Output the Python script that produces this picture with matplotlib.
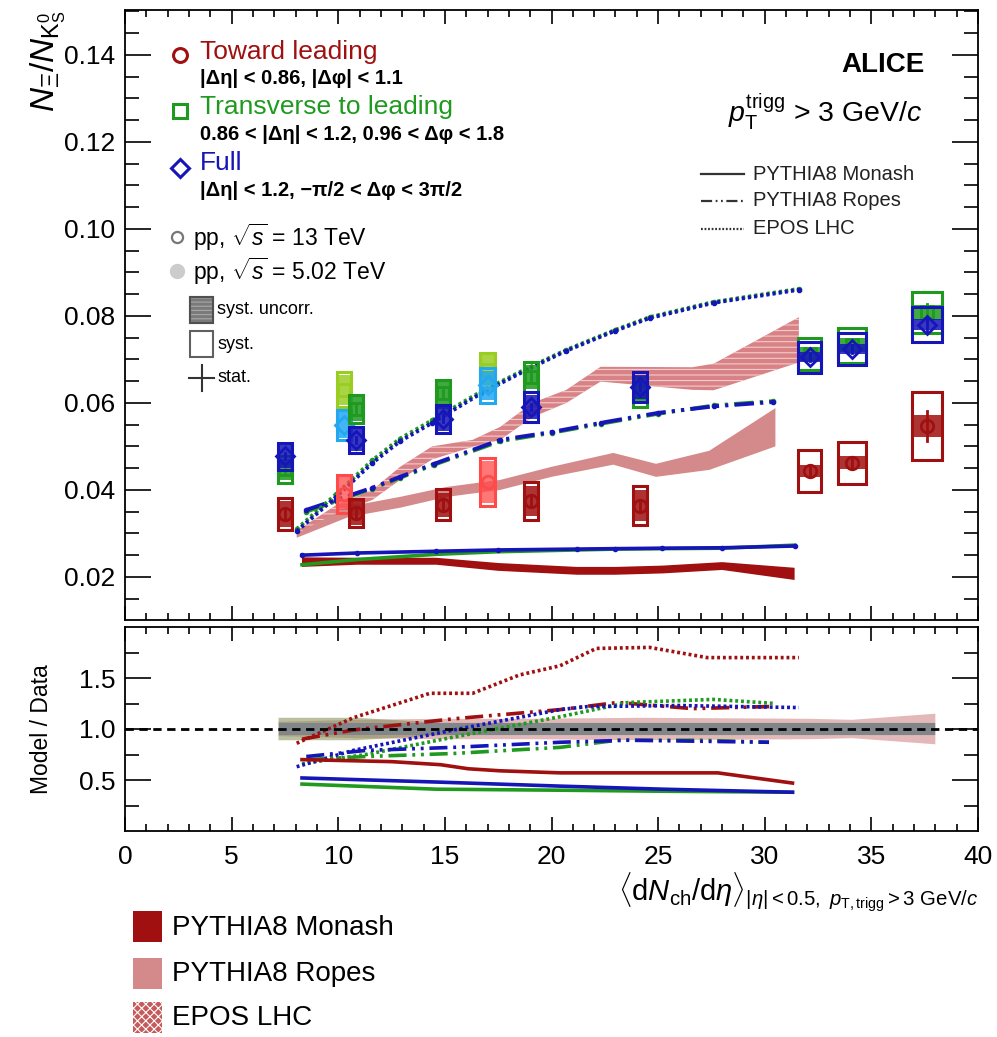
import numpy as np
import matplotlib
matplotlib.use('Agg')
import matplotlib.pyplot as plt
from matplotlib.patches import Rectangle
from matplotlib.lines import Line2D
from matplotlib.ticker import MultipleLocator, FixedLocator, FormatStrFormatter

plt.rcParams['font.family'] = ['Liberation Sans', 'DejaVu Sans']
plt.rcParams['mathtext.fontset'] = 'custom'
plt.rcParams['mathtext.rm'] = 'Liberation Sans'
plt.rcParams['mathtext.it'] = 'Liberation Sans:italic'
plt.rcParams['mathtext.bf'] = 'Liberation Sans:bold'
plt.rcParams['hatch.linewidth'] = 0.8

# ---------------- data: measured points (pp 13 TeV) ----------------
x13 = [7.5, 10.85, 14.9, 19.05, 24.15, 32.1, 34.1, 37.6]
box_hw13 = [0.33, 0.33, 0.33, 0.33, 0.33, 0.55, 0.65, 0.70]

tow_y = [0.0345, 0.0347, 0.0366, 0.0375, 0.0364, 0.0444, 0.0462, 0.0547]
tow_syst = [0.0037, 0.0033, 0.0035, 0.0044, 0.0045, 0.0048, 0.0048, 0.0079]
tow_unc = [0.0030, 0.0027, 0.0028, 0.0034, 0.0035, 0.0014, 0.0015, 0.0025]
tow_stat = [0.0012, 0.0010, 0.0010, 0.0010, 0.0012, 0.0013, 0.0014, 0.0034]

tra_y = [0.0447, 0.0586, 0.0622, 0.0660, 0.0625, 0.0713, 0.0732, 0.0808]
tra_syst = [0.0030, 0.0032, 0.0031, 0.0034, 0.0034, 0.0037, 0.0040, 0.0047]
tra_unc = [0.0025, 0.0027, 0.0026, 0.0028, 0.0028, 0.0016, 0.0016, 0.0017]
tra_stat = [0.0008, 0.0008, 0.0008, 0.0008, 0.0009, 0.0010, 0.0011, 0.0020]

ful_y = [0.0477, 0.0515, 0.0563, 0.0591, 0.0637, 0.0705, 0.0724, 0.0780]
ful_syst = [0.0031, 0.0030, 0.0032, 0.0034, 0.0034, 0.0036, 0.0037, 0.0040]
ful_unc = [0.0026, 0.0025, 0.0027, 0.0028, 0.0028, 0.0012, 0.0012, 0.0013]
ful_stat = [0.0007, 0.0007, 0.0007, 0.0007, 0.0008, 0.0009, 0.0010, 0.0016]

# pp 5.02 TeV
x502 = [10.25, 17.0]
box_hw502 = [0.33, 0.33]
tow502_y = [0.0391, 0.0418]
tow502_syst = [0.0043, 0.0056]
tra502_y = [0.0630, 0.0675]
tra502_syst = [0.0040, 0.0040]
ful502_y = [0.0549, 0.0640]
ful502_syst = [0.0035, 0.0040]

# ---------------- models (top panel) ----------------
mon_x = [8.3, 10.9, 14.6, 17.5, 21.2, 23.0, 25.2, 28.0, 31.4]
mon_ful = [0.0250, 0.0255, 0.0259, 0.0262, 0.0264, 0.0265, 0.0266, 0.0267, 0.0271]
mon_tra = [0.0228, 0.0240, 0.0252, 0.0258, 0.0262, 0.0264, 0.0265, 0.0266, 0.0273]
mon_tow_c = [0.0234, 0.0236, 0.0236, 0.0223, 0.0214, 0.0214, 0.0217, 0.0225, 0.0207]
mon_tow_hw = [0.0011, 0.0008, 0.0008, 0.0009, 0.0009, 0.0009, 0.0009, 0.0009, 0.0014]

rop_x = [8.5, 9.9, 11.6, 12.9, 14.5, 17.6, 20.0, 22.3, 25.0, 27.6, 30.4]
rop_ful = [0.0354, 0.0377, 0.0405, 0.0430, 0.0460, 0.0515, 0.0533, 0.0554, 0.0577, 0.0592, 0.0602]
rop_tra = [0.0350, 0.0374, 0.0403, 0.0428, 0.0458, 0.0512, 0.0531, 0.0552, 0.0575, 0.0594, 0.0604]
rop_tow_x = [8.05, 10.5, 12.9, 15.1, 17.6, 20.0, 22.9, 24.9, 27.4, 30.5]
rop_tow_lo = [0.0290, 0.0338, 0.0359, 0.0384, 0.0400, 0.0430, 0.0458, 0.0430, 0.0446, 0.0500]
rop_tow_hi = [0.0300, 0.0362, 0.0384, 0.0407, 0.0423, 0.0453, 0.0485, 0.0460, 0.0490, 0.0588]

epo_x = [8.05, 9.9, 11.6, 12.9, 14.4, 16.7, 18.8, 20.7, 23.0, 24.6, 27.6, 31.6]
epo_ful = [0.0305, 0.0384, 0.0462, 0.0512, 0.0554, 0.0622, 0.0675, 0.0720, 0.0766, 0.0795, 0.0830, 0.0860]
epo_tra = [0.0310, 0.0390, 0.0468, 0.0518, 0.0560, 0.0626, 0.0678, 0.0722, 0.0768, 0.0797, 0.0832, 0.0862]
epo_tow_x = [8.05, 9.9, 11.6, 12.9, 14.4, 16.3, 17.6, 19.1, 20.7, 22.3, 26.6, 27.6, 31.6]
epo_tow_lo = [0.0298, 0.0345, 0.0377, 0.0423, 0.0470, 0.0499, 0.0515, 0.0567, 0.0600, 0.0649, 0.0630, 0.0629, 0.0693]
epo_tow_hi = [0.0306, 0.0365, 0.0400, 0.0453, 0.0500, 0.0515, 0.0545, 0.0600, 0.0630, 0.0683, 0.0682, 0.0690, 0.0797]

# ---------------- ratios (bottom panel) ----------------
r_epo_tow_x = [8.05, 10.7, 14.3, 16.3, 18.5, 20.4, 22.1, 24.6, 27.3, 31.6]
r_epo_tow = [0.86, 1.11, 1.35, 1.35, 1.53, 1.62, 1.79, 1.80, 1.70, 1.70]
r_rop_tow_x = [8.3, 10.7, 15.4, 20.4, 23.1, 26.6, 30.2]
r_rop_tow = [0.90, 0.99, 1.10, 1.19, 1.26, 1.20, 1.22]
r_epo_ful_x = [8.05, 10.7, 15.4, 20.4, 21.7, 26.0, 31.6]
r_epo_ful = [0.63, 0.79, 0.99, 1.19, 1.22, 1.23, 1.21]
r_epo_tra_x = [8.3, 11.3, 15.4, 20.4, 23.6, 27.6, 30.5]
r_epo_tra = [0.66, 0.75, 0.92, 1.12, 1.26, 1.29, 1.25]
r_rop_ful_x = [8.5, 11.3, 15.4, 20.4, 23.6, 30.2]
r_rop_ful = [0.73, 0.79, 0.82, 0.87, 0.89, 0.87]
r_rop_tra_x = [8.5, 11.3, 15.4, 20.4, 23.1, 27.0, 30.2]
r_rop_tra = [0.70, 0.73, 0.76, 0.82, 0.89, 0.89, 0.87]
r_mon_tow_x = [8.3, 12.5, 14.8, 16.1, 17.6, 20.4, 27.8, 31.3]
r_mon_tow = [0.70, 0.68, 0.65, 0.61, 0.59, 0.57, 0.57, 0.47]
r_mon_x = [8.3, 14.6, 20.4, 25.2, 31.3]
r_mon_ful = [0.52, 0.48, 0.44, 0.41, 0.38]
r_mon_tra = [0.46, 0.41, 0.40, 0.39, 0.38]

# relative data uncertainty bands
band_x = [7.2, 10.85, 14.9, 19.05, 24.15, 32.1, 34.1, 38.0]
band_tow = [0.07, 0.09, 0.10, 0.10, 0.11, 0.10, 0.09, 0.15]
band_tra = [0.11, 0.11, 0.06, 0.06, 0.06, 0.06, 0.06, 0.06]
band_ful = [0.06, 0.06, 0.06, 0.06, 0.06, 0.06, 0.06, 0.06]

# ---------------- colours ----------------
C_TOW = '#a01010'
C_TRA = '#1f9a1f'
C_FUL = '#1515b8'
C_TOW_L = '#ff4a4a'
C_TRA_L = '#9acd22'
C_FUL_L = '#22a8f0'
C_ROPE = '#d48a8a'
C_EPOS = '#d88286'

W, H = 997, 1037
fig = plt.figure(figsize=(W / 100, H / 100), dpi=100)


def fx(px):
    return px / W


def fy(py):
    return 1 - py / H


L, R = 125, 978
ax1 = fig.add_axes([fx(L), fy(620), (R - L) / W, (620 - 10) / H])
ax2 = fig.add_axes([fx(L), fy(831), (R - L) / W, (831 - 627) / H])

for ax in (ax1, ax2):
    ax.set_xlim(0, 40)
    for s in ax.spines.values():
        s.set_linewidth(1.3)
    ax.xaxis.set_major_locator(MultipleLocator(5))
    ax.xaxis.set_minor_locator(MultipleLocator(1))
    ax.tick_params(which='both', direction='in', top=True, right=True, width=1.2,
                   labelsize=19)
    ax.tick_params(axis='x', which='major', length=10)
    ax.tick_params(axis='x', which='minor', length=5)
    ax.tick_params(axis='y', which='major', length=19, pad=7)
    ax.tick_params(axis='y', which='minor', length=10)

ax1.set_ylim(0.0101, 0.1503)
ax1.yaxis.set_major_locator(MultipleLocator(0.02))
ax1.yaxis.set_minor_locator(MultipleLocator(0.005))
ax1.yaxis.set_major_formatter(FormatStrFormatter('%.2f'))
ax1.tick_params(axis='x', labelbottom=False)

ax2.set_ylim(0, 2)
ax2.yaxis.set_major_locator(FixedLocator([0.5, 1.0, 1.5]))
ax2.yaxis.set_minor_locator(FixedLocator([0.25, 0.75, 1.25, 1.75]))
ax2.yaxis.set_major_formatter(FormatStrFormatter('%.1f'))
ax2.xaxis.set_major_formatter(FormatStrFormatter('%d'))
ax2.tick_params(axis='x', which='major', pad=10)

# ---------------- top panel: models ----------------
ax1.fill_between(epo_tow_x, epo_tow_lo, epo_tow_hi, facecolor=C_EPOS, edgecolor='#f2cccc',
                 hatch='---', linewidth=0, zorder=1)
ax1.fill_between(rop_tow_x, rop_tow_lo, rop_tow_hi, facecolor=C_ROPE, edgecolor='none',
                 linewidth=0, zorder=1)
mlo = np.array(mon_tow_c) - np.array(mon_tow_hw)
mhi = np.array(mon_tow_c) + np.array(mon_tow_hw)
ax1.fill_between(mon_x, mlo, mhi, facecolor=C_TOW, edgecolor='none', linewidth=0, zorder=1)

ROPE_LS = (0, (5, 1.6, 0.8, 1.6, 0.8, 1.6))
DOT_LS = (0, (0.8, 0.8))
ax1.plot(mon_x, mon_tra, color=C_TRA, lw=2.6, zorder=2)
ax1.plot(mon_x, mon_ful, color=C_FUL, lw=2.6, zorder=2, marker='o', ms=3)
ax1.plot(rop_x, rop_tra, color=C_TRA, lw=2.8, ls=ROPE_LS, zorder=2, marker='o', ms=3)
ax1.plot(rop_x, rop_ful, color=C_FUL, lw=2.8, ls=ROPE_LS, zorder=2, marker='o', ms=3)
ax1.plot(epo_x, epo_tra, color=C_TRA, lw=2.8, ls=DOT_LS, zorder=2, marker='o', ms=3)
ax1.plot(epo_x, epo_ful, color=C_FUL, lw=2.8, ls=DOT_LS, zorder=2, marker='o', ms=3)


# ---------------- top panel: data ----------------
def draw_points(ax, xs, ys, syst, unc, stat, hws, color, marker, fill_alpha=0.85, z=4):
    for i, (x, y, s, w) in enumerate(zip(xs, ys, syst, hws)):
        u = unc[i] if unc is not None else s * 0.85
        ax.add_patch(Rectangle((x - w, y - u), 2 * w, 2 * u, facecolor=color,
                               alpha=fill_alpha, edgecolor='none', zorder=z))
        ax.add_patch(Rectangle((x - w, y - s), 2 * w, 2 * s, facecolor='none',
                               edgecolor=color, lw=2.2, zorder=z + 0.1))
        if stat is not None:
            ax.plot([x, x], [y - stat[i], y + stat[i]], color=color, lw=2, zorder=z + 0.2)
        ax.plot([x], [y], marker=marker, mfc='none', mec=color, ms=9, mew=2,
                zorder=z + 0.3, ls='none')


draw_points(ax1, x502, tra502_y, tra502_syst, None, None, box_hw502, C_TRA_L, 's', z=3)
draw_points(ax1, x502, ful502_y, ful502_syst, None, None, box_hw502, C_FUL_L, 'D', z=3.5)
draw_points(ax1, x502, tow502_y, tow502_syst, [0.0038, 0.0048], None, box_hw502, C_TOW_L,
            'o', fill_alpha=0.75, z=3.5)
draw_points(ax1, x13, tra_y, tra_syst, tra_unc, tra_stat, box_hw13, C_TRA, 's', z=4)
draw_points(ax1, x13, ful_y, ful_syst, ful_unc, ful_stat, box_hw13, C_FUL, 'D', z=5)
draw_points(ax1, x13, tow_y, tow_syst, tow_unc, tow_stat, box_hw13, C_TOW, 'o', z=6)

# ---------------- bottom panel ----------------
btow = np.array(band_tow)
btra = np.array(band_tra)
bful = np.array(band_ful)
ax2.fill_between(band_x, 1 - btow, 1 + btow, facecolor='#d9a0a0', alpha=0.75, lw=0, zorder=1)
ax2.fill_between(band_x, 1 - btra, 1 + btra, facecolor='#7e8e50', alpha=0.55, lw=0, zorder=1)
ax2.fill_between(band_x, 1 - bful, 1 + bful, facecolor='#6a7890', alpha=0.65, lw=0, zorder=1)
ax2.axhline(1.0, color='black', lw=2, ls=(0, (3, 2)), zorder=3)

ax2.plot(r_epo_tow_x, r_epo_tow, color=C_TOW, lw=2.6, ls=DOT_LS, zorder=2)
ax2.plot(r_rop_tow_x, r_rop_tow, color=C_TOW, lw=2.6, ls=ROPE_LS, zorder=2)
ax2.plot(r_epo_tra_x, r_epo_tra, color=C_TRA, lw=2.6, ls=DOT_LS, zorder=2)
ax2.plot(r_epo_ful_x, r_epo_ful, color=C_FUL, lw=2.6, ls=DOT_LS, zorder=2)
ax2.plot(r_rop_tra_x, r_rop_tra, color=C_TRA, lw=2.6, ls=ROPE_LS, zorder=2)
ax2.plot(r_rop_ful_x, r_rop_ful, color=C_FUL, lw=2.6, ls=ROPE_LS, zorder=2)
ax2.plot(r_mon_tow_x, r_mon_tow, color=C_TOW, lw=2.6, zorder=2)
ax2.plot(r_mon_x, r_mon_tra, color=C_TRA, lw=2.6, zorder=2)
ax2.plot(r_mon_x, r_mon_ful, color=C_FUL, lw=2.6, zorder=2)

# ---------------- axis titles ----------------
fig.text(fx(48), fy(10), r'$N_{\Xi}/N_{\mathrm{K}^{0}_{\mathrm{S}}}$', rotation=90,
         ha='center', va='top', fontsize=24)
fig.text(fx(42), fy(729), 'Model / Data', rotation=90, ha='center', va='center', fontsize=16.5)
fig.text(fx(978), fy(892),
         r'$\langle\mathrm{d}N_{\mathrm{ch}}/\mathrm{d}\eta\rangle_{|\eta|<0.5,\ p_{\mathrm{T,trigg}}>3\ \mathrm{GeV}/c}$',
         ha='right', va='center', fontsize=21)

# ---------------- top-left legend ----------------
fig.add_artist(Line2D([fx(180)], [fy(55)], marker='o', mfc='white', mec=C_TOW, ms=10, mew=2.2))
fig.text(fx(200), fy(52), 'Toward leading', color=C_TOW, fontsize=19, va='center')
fig.text(fx(200), fy(79), '|Δη| < 0.86, |Δφ| < 1.1', fontsize=14.5, fontweight='bold', va='center')
fig.add_artist(Line2D([fx(180)], [fy(111)], marker='s', mfc='white', mec=C_TRA, ms=10, mew=2.2))
fig.text(fx(200), fy(107), 'Transverse to leading', color=C_TRA, fontsize=19, va='center')
fig.text(fx(200), fy(134), '0.86 < |Δη| < 1.2, 0.96 < Δφ < 1.8', fontsize=14.5, fontweight='bold',
         va='center')
fig.add_artist(Line2D([fx(180)], [fy(168)], marker='D', mfc='white', mec=C_FUL, ms=9, mew=2.2))
fig.text(fx(200), fy(163), 'Full', color=C_FUL, fontsize=19, va='center')
fig.text(fx(200), fy(191), '|Δη| < 1.2, −π/2 < Δφ < 3π/2', fontsize=14.5, fontweight='bold',
         va='center')
fig.add_artist(Line2D([fx(177)], [fy(237)], marker='o', mfc='white', mec='#777777', ms=8, mew=1.6))
fig.text(fx(193), fy(237), r'pp, $\sqrt{s}$ = 13 TeV', fontsize=16.5, va='center')
fig.add_artist(Line2D([fx(177)], [fy(271)], marker='o', mfc='#cccccc', mec='#cccccc', ms=10))
fig.text(fx(193), fy(271), r'pp, $\sqrt{s}$ = 5.02 TeV', fontsize=16.5, va='center')

# syst legend
SY = 310  # centre of the first legend row (pixels from top)
fig.add_artist(Rectangle((fx(190), fy(SY + 13)), 23 / W, 26 / H, transform=fig.transFigure,
                         facecolor='#7a7a7a', edgecolor='#a8a8a8', hatch='----', lw=1.5))
fig.add_artist(Rectangle((fx(190), fy(SY + 13)), 23 / W, 26 / H, transform=fig.transFigure,
                         facecolor='none', edgecolor='#505050', lw=1.5))
fig.text(fx(217), fy(SY), 'syst. uncorr.', fontsize=13, va='center')
fig.add_artist(Rectangle((fx(190), fy(SY + 47)), 23 / W, 26 / H, transform=fig.transFigure,
                         facecolor='white', edgecolor='#606060', lw=1.5))
fig.text(fx(217), fy(SY + 34), 'syst.', fontsize=13, va='center')
fig.add_artist(Line2D([fx(189), fx(214)], [fy(SY + 68), fy(SY + 68)], color='#333333', lw=1.5))
fig.add_artist(Line2D([fx(201.5), fx(201.5)], [fy(SY + 55), fy(SY + 81)], color='#333333', lw=1.5))
fig.text(fx(217), fy(SY + 68), 'stat.', fontsize=13, va='center')

# ---------------- top-right labels ----------------
fig.text(fx(925), fy(65), 'ALICE', fontsize=20, fontweight='bold', ha='right', va='center')
fig.text(fx(922), fy(112), r'$p_{\mathrm{T}}^{\mathrm{trigg}}$ > 3 GeV/$c$', fontsize=20.5,
         ha='right', va='center')
leg_items = [('PYTHIA8 Monash', '-', 174), ('PYTHIA8 Ropes', ROPE_LS, 201),
             ('EPOS LHC', DOT_LS, 229)]
for lab, ls, py in leg_items:
    fig.add_artist(Line2D([fx(701), fx(744)], [fy(py), fy(py)], color='#333333', lw=1.6, ls=ls))
    fig.text(fx(753), fy(py), lab, fontsize=14.5, va='center', color='#222222')

# ---------------- bottom legend ----------------
fig.add_artist(Rectangle((fx(133), fy(942)), 29 / W, 31 / H, transform=fig.transFigure,
                         facecolor=C_TOW, edgecolor='none'))
fig.text(fx(172), fy(928), 'PYTHIA8 Monash', fontsize=20, va='center')
fig.add_artist(Rectangle((fx(133), fy(989)), 29 / W, 31 / H, transform=fig.transFigure,
                         facecolor=C_ROPE, edgecolor='none'))
fig.text(fx(172), fy(974), 'PYTHIA8 Ropes', fontsize=20, va='center')
fig.add_artist(Rectangle((fx(133), fy(1033)), 29 / W, 31 / H, transform=fig.transFigure,
                         facecolor='#c65a5a', edgecolor='white', hatch='xxxx', lw=0))
fig.text(fx(172), fy(1018), 'EPOS LHC', fontsize=20, va='center')

fig.savefig('out.png', dpi=100)
